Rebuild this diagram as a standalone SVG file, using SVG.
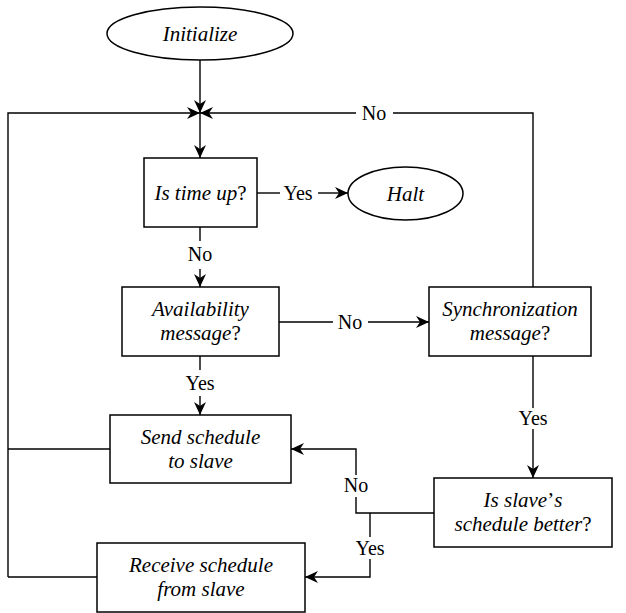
<svg xmlns="http://www.w3.org/2000/svg" width="626" height="613" viewBox="0 0 626 613" font-family="Liberation Serif, DejaVu Serif, serif">
<defs>
<style>
.node{fill:#fff;stroke:#000;stroke-width:1.5}
.t{font-style:italic;font-size:21px;text-anchor:middle;fill:#000}
.u{font-style:normal}
.lbl{font-size:20px;text-anchor:middle;fill:#000}
.c{fill:none;stroke:#000;stroke-width:1.4}
</style>
<marker id="ah" markerUnits="userSpaceOnUse" markerWidth="16" markerHeight="14" viewBox="-14 -7 16 14" refX="0" refY="0" orient="auto">
<path d="M0,0 L-13,-6 L-9,0 L-13,6 Z" fill="#000"/>
</marker>
</defs>
<rect width="626" height="613" fill="#fff"/>
<g id="connectors">
<path class="c" d="M200,60 V113" marker-end="url(#ah)"/>
<path class="c" d="M8,577 V113 H200" marker-end="url(#ah)"/>
<path class="c" d="M533,287 V113 H393"/>
<path class="c" d="M356,113 H200" marker-end="url(#ah)"/>
<path class="c" d="M200,113 V158" marker-end="url(#ah)"/>
<path class="c" d="M257,193 H280"/>
<path class="c" d="M318,193 H348" marker-end="url(#ah)"/>
<path class="c" d="M200,227 V241"/>
<path class="c" d="M200,269 V287" marker-end="url(#ah)"/>
<path class="c" d="M279,322 H333"/>
<path class="c" d="M368,322 H429" marker-end="url(#ah)"/>
<path class="c" d="M200,356 V370"/>
<path class="c" d="M200,396 V415" marker-end="url(#ah)"/>
<path class="c" d="M533,356 V408"/>
<path class="c" d="M533,429 V478" marker-end="url(#ah)"/>
<path class="c" d="M434,513 H356 V497"/>
<path class="c" d="M356,475 V449 H291" marker-end="url(#ah)"/>
<path class="c" d="M370,513 V537"/>
<path class="c" d="M370,559 V577 H305" marker-end="url(#ah)"/>
<path class="c" d="M110,449 H8"/>
<path class="c" d="M97,577 H8"/>
<text class="lbl" x="374" y="120" font-family="Liberation Serif">No</text>
<text class="lbl" x="298" y="200" font-family="Liberation Serif">Yes</text>
<text class="lbl" x="200" y="261" font-family="Liberation Serif">No</text>
<text class="lbl" x="200" y="390" font-family="Liberation Serif">Yes</text>
<text class="lbl" x="350" y="329" font-family="Liberation Serif">No</text>
<text class="lbl" x="533" y="425" font-family="Liberation Serif">Yes</text>
<text class="lbl" x="356" y="492" font-family="Liberation Serif">No</text>
<text class="lbl" x="370" y="555" font-family="Liberation Serif">Yes</text>
</g>
<g id="initialize">
<ellipse class="node" cx="200" cy="33.5" rx="93" ry="26.5"/>
<text class="t" x="200" y="41" font-family="Liberation Serif">Initialize</text>
</g>
<g id="time-up">
<rect class="node" x="144" y="158" width="113" height="69"/>
<text class="t" x="200.5" y="200" font-family="Liberation Serif">Is time up<tspan class="u">?</tspan></text>
</g>
<g id="halt">
<ellipse class="node" cx="405.5" cy="193.5" rx="57.5" ry="26.5"/>
<text class="t" x="405.5" y="201" font-family="Liberation Serif">Halt</text>
</g>
<g id="availability">
<rect class="node" x="122" y="287" width="157" height="69"/>
<text class="t" x="200.5" y="316" font-family="Liberation Serif">Availability</text>
<text class="t" x="200.5" y="340" font-family="Liberation Serif">message<tspan class="u">?</tspan></text>
</g>
<g id="synchronization">
<rect class="node" x="429" y="287" width="162" height="69"/>
<text class="t" x="510" y="316" font-family="Liberation Serif">Synchronization</text>
<text class="t" x="510" y="340" font-family="Liberation Serif">message<tspan class="u">?</tspan></text>
</g>
<g id="send">
<rect class="node" x="110" y="415" width="181" height="68"/>
<text class="t" x="200.5" y="444" font-family="Liberation Serif">Send schedule</text>
<text class="t" x="200.5" y="468" font-family="Liberation Serif">to slave</text>
</g>
<g id="better">
<rect class="node" x="434" y="478" width="178" height="69"/>
<text class="t" x="523" y="507" font-family="Liberation Serif">Is slave<tspan class="u">’</tspan>s</text>
<text class="t" x="523" y="531" font-family="Liberation Serif">schedule better<tspan class="u">?</tspan></text>
</g>
<g id="receive">
<rect class="node" x="97" y="543" width="208" height="69"/>
<text class="t" x="201" y="572" font-family="Liberation Serif">Receive schedule</text>
<text class="t" x="201" y="596" font-family="Liberation Serif">from slave</text>
</g>
</svg>
